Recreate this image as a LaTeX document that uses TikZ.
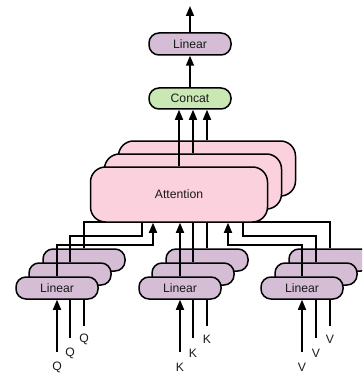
\documentclass[tikz,border=0pt]{standalone}
\usepackage{fontspec}
\setmainfont{Liberation Sans}
\usetikzlibrary{arrows.meta}
\definecolor{linfill}{HTML}{D5BED5}
\definecolor{catfill}{HTML}{C9E8B4}
\definecolor{attfill}{HTML}{FAD1DD}
\definecolor{txt}{HTML}{1A1A1A}
\begin{document}
\begin{tikzpicture}[x=1pt,y=-1pt,
  txtfont/.style={font=\fontsize{12.2}{14}\selectfont, text=txt},
  lin/.style={draw=black, line width=1.5pt, fill=linfill, rounded corners=10pt,
    minimum width=82pt, minimum height=22pt, inner sep=0pt, txtfont},
  cat/.style={lin, fill=catfill, minimum height=21pt},
  att/.style={draw=black, line width=1.5pt, fill=attfill, rounded corners=15pt,
    minimum width=177pt, minimum height=55pt, inner sep=0pt, txtfont},
  con/.style={draw=black, line width=1.6pt},
  arr/.style={con, -{Triangle[length=10pt,width=8pt]}},
  lbl/.style={inner sep=0pt, txtfont}]
\useasboundingbox (0,0) rectangle (362,377);
\clip (0,0) rectangle (362,377);

% top part
\node[lin] (lt) at (190,44) {Linear};
\node[cat] (cc) at (190,98.5) {Concat};
\coordinate (out) at (190,6);
\draw[arr] (lt.north) -- (out);
\draw[arr] (cc.north) -- (lt.south);

% input labels and start points
\node[lbl] (ql1) at (57,367) {Q};
\node[lbl] (ql2) at (70,353) {Q};
\node[lbl] (ql3) at (84,339) {Q};
\node[lbl] (kl1) at (180,367) {K};
\node[lbl] (kl2) at (193,353) {K};
\node[lbl] (kl3) at (207,339) {K};
\node[lbl] (vl1) at (302,367) {V};
\node[lbl] (vl2) at (316,353) {V};
\node[lbl] (vl3) at (330,339) {V};
\coordinate (qs1) at (57,352);  \coordinate (qs2) at (70,338);  \coordinate (qs3) at (84,326);
\coordinate (ks1) at (180,352); \coordinate (ks2) at (193,338); \coordinate (ks3) at (207,326);
\coordinate (vs1) at (302,352); \coordinate (vs2) at (316,338); \coordinate (vs3) at (330,326);

% Q linear stack
\node[lin] (qb) at (84,260) {};
\draw[con] (qs3) -- (qb.south);
\node[lin] (qm) at (70,274) {};
\draw[con] (qs2) -- (qm.south);
\node[lin] (qf) at (57,288) {Linear};
\draw[arr] (qs1) -- (qf.south);

% K linear stack
\node[lin] (kb) at (207,260) {};
\draw[con] (ks3) -- (kb.south);
\node[lin] (km) at (193,274) {};
\draw[con] (ks2) -- (km.south);
\node[lin] (kf) at (180,288) {Linear};
\draw[arr] (ks1) -- (kf.south);

% V linear stack
\node[lin] (vb) at (330,260) {};
\draw[con] (vs3) -- (vb.south);
\node[lin] (vm) at (316,274) {};
\draw[con] (vs2) -- (vm.south);
\node[lin] (vf) at (302,288) {Linear};
\draw[arr] (vs1) -- (vf.south);

% junction points
\coordinate (jq1) at (153,245); \coordinate (jq2) at (142,236); \coordinate (jq3) at (142,222);
\coordinate (jv1) at (228,245); \coordinate (jv2) at (243,236); \coordinate (jv3) at (243,222);

% back attention
\node[att] (ab) at (207,168.5) {};
\draw[con] (qb.north) |- (jq3) -- (jq3 |- ab.south);
\draw[con] (kb.north) -- (kb.north |- ab.south);
\draw[con] (vb.north) |- (jv3) -- (jv3 |- ab.south);
\draw[arr] (ab.north) -- (ab.north |- cc.south);

% middle attention
\node[att] (am) at (193,181.5) {};
\draw[con] (qm.north) |- (jq2) -- (jq2 |- am.south);
\draw[con] (km.north) -- (km.north |- am.south);
\draw[con] (vm.north) |- (jv2) -- (jv2 |- am.south);
\draw[arr] (am.north) -- (am.north |- cc.south);

% front attention
\node[att] (af) at (179,194.5) {Attention};
\draw[arr] (qf.north) |- (jq1) -- (jq1 |- af.south);
\draw[arr] (kf.north) -- (kf.north |- af.south);
\draw[arr] (vf.north) |- (jv1) -- (jv1 |- af.south);
\draw[arr] (af.north) -- (af.north |- cc.south);
\end{tikzpicture}
\end{document}
